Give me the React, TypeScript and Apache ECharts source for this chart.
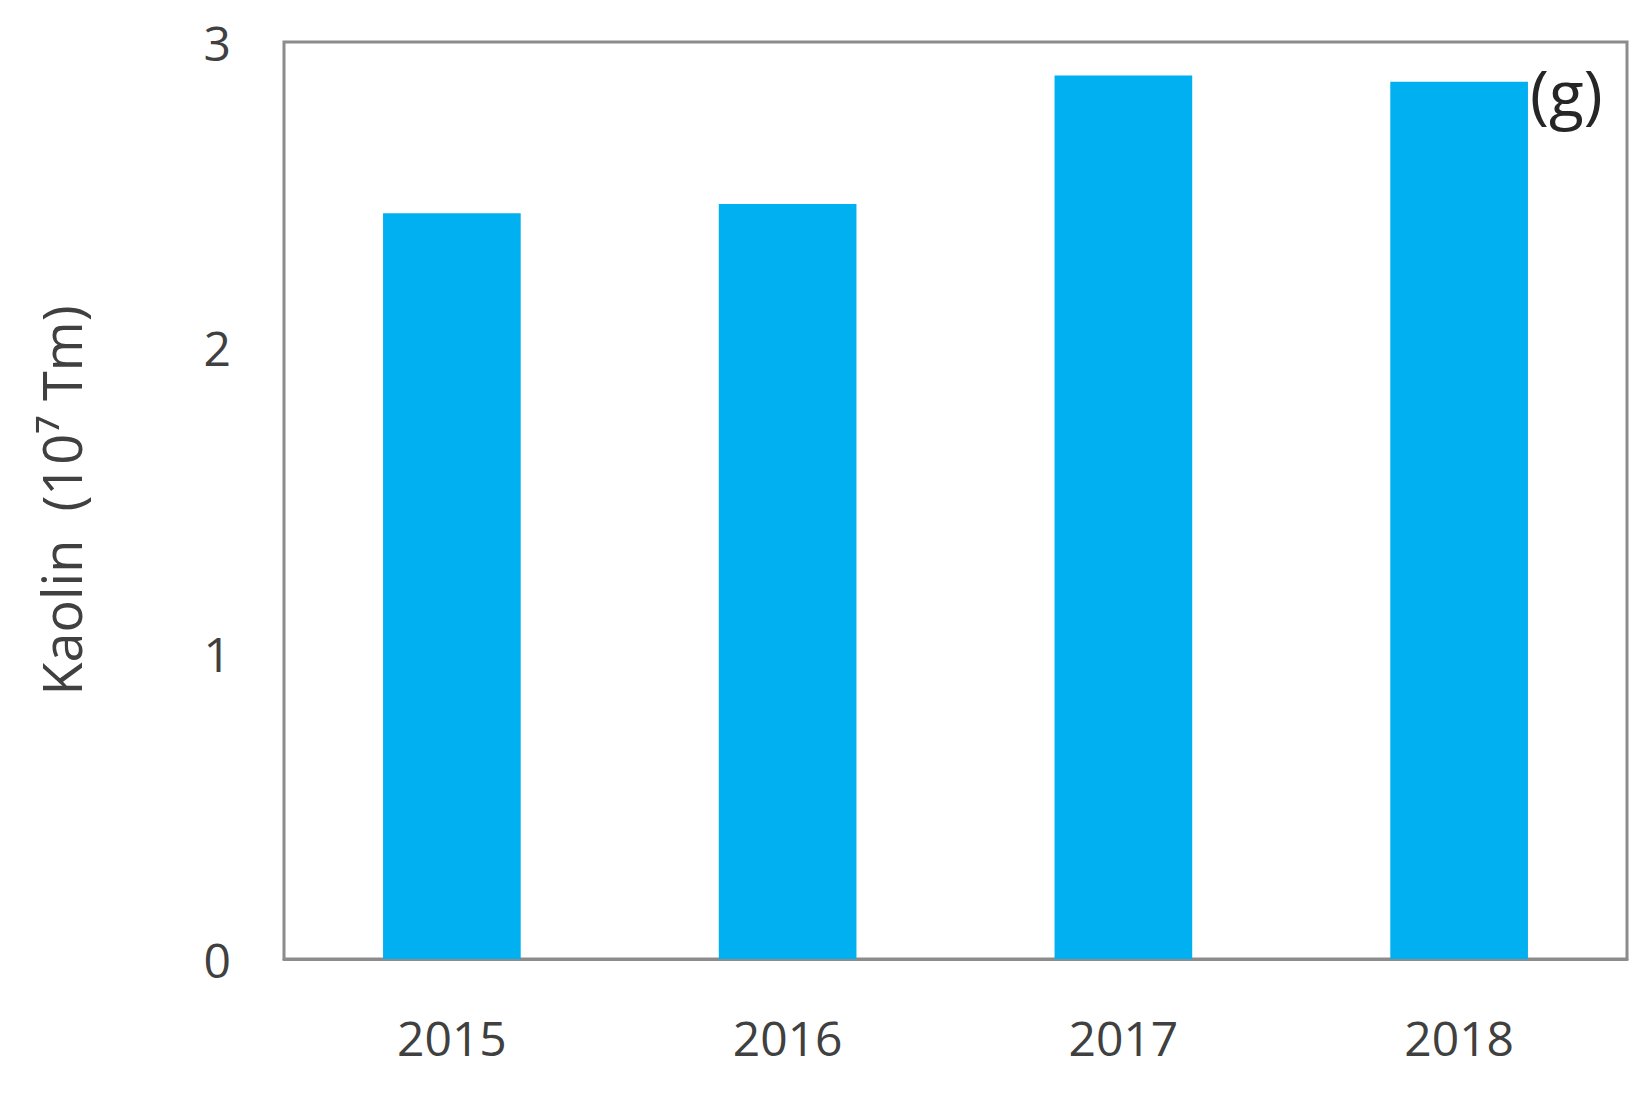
import React, { useEffect, useRef } from "react";
import * as echarts from "echarts";

const categories: string[] = ["2015", "2016", "2017", "2018"];
const kaolinValues: number[] = [2.44, 2.47, 2.89, 2.87];
const yAxisTitle = "Kaolin  (10⁷ Tm)";
const panelLabel = "(g)";

export default function App() {
  const ref = useRef<HTMLDivElement>(null);

  useEffect(() => {
    if (!ref.current) return;
    const chart = echarts.init(ref.current, undefined, { renderer: "svg" });
    const font = "'Open Sans', 'Noto Sans', sans-serif";
    chart.setOption({
      animation: false,
      backgroundColor: "#ffffff",
      grid: {
        left: 284,
        right: 21,
        top: 42,
        bottom: 141,
        show: true,
        borderColor: "#8c8c8c",
        borderWidth: 3,
        backgroundColor: "transparent",
      },
      xAxis: {
        type: "category",
        data: categories,
        axisLine: { show: true, lineStyle: { color: "#8c8c8c", width: 3 } },
        axisTick: { show: false },
        axisLabel: {
          color: "#404040",
          fontSize: 48,
          fontFamily: font,
          margin: 54,
        },
        splitLine: { show: false },
      },
      yAxis: {
        type: "value",
        min: 0,
        max: 3,
        interval: 1,
        axisLine: { show: false },
        axisTick: { show: false },
        splitLine: { show: false },
        axisLabel: {
          color: "#404040",
          fontSize: 48,
          fontFamily: font,
          margin: 53,
        },
        name: yAxisTitle,
        nameLocation: "middle",
        nameGap: 196,
        nameTextStyle: {
          color: "#404040",
          fontSize: 54,
          fontFamily: font,
        },
      },
      series: [
        {
          type: "bar",
          data: kaolinValues,
          barWidth: "41%",
          itemStyle: { color: "#00B0F0" },
          z: 1,
        },
      ],
      graphic: [
        {
          type: "text",
          left: 1530,
          top: 60,
          z: 10,
          style: {
            text: panelLabel,
            fill: "#262626",
            fontSize: 64,
            fontFamily: font,
          },
        },
      ],
    });
    return () => chart.dispose();
  }, []);

  return (
    <div
      ref={ref}
      style={{ position: "fixed", left: 0, top: 0, width: 1648, height: 1100 }}
    />
  );
}
